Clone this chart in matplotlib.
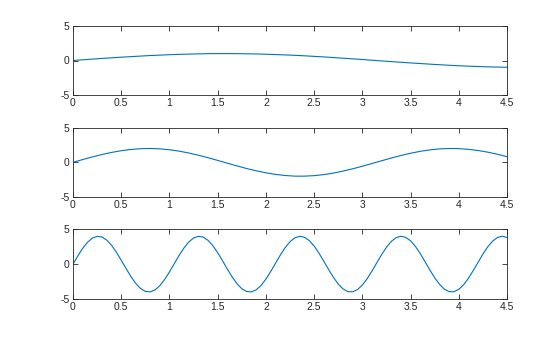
import numpy as np
import matplotlib
matplotlib.use("Agg")
import matplotlib.pyplot as plt

# sampled x grids
x_coarse = np.round(np.arange(46) * 0.1, 2)
x_fine = np.round(np.arange(91) * 0.05, 3)

# series values
y_top = [0.00, 0.10, 0.20, 0.30, 0.39, 0.48, 0.56, 0.64, 0.72, 0.78,
         0.84, 0.89, 0.93, 0.96, 0.99, 1.00, 1.00, 0.99, 0.97, 0.95,
         0.91, 0.86, 0.81, 0.75, 0.68, 0.60, 0.52, 0.43, 0.33, 0.24,
         0.14, 0.04, -0.06, -0.16, -0.26, -0.35, -0.44, -0.53, -0.61, -0.69,
         -0.76, -0.82, -0.87, -0.92, -0.95, -0.98]
y_mid = [0.00, 0.40, 0.78, 1.13, 1.43, 1.68, 1.86, 1.97, 2.00, 1.95,
         1.82, 1.62, 1.35, 1.03, 0.67, 0.28, -0.12, -0.51, -0.89, -1.22,
         -1.51, -1.74, -1.90, -1.99, -1.99, -1.92, -1.77, -1.55, -1.26, -0.93,
         -0.56, -0.17, 0.23, 0.62, 0.99, 1.31, 1.59, 1.80, 1.94, 2.00,
         1.98, 1.88, 1.71, 1.47, 1.17, 0.82]
y_bot = [0.00, 1.18, 2.26, 3.13, 3.73, 3.99, 3.90, 3.45, 2.70, 1.71, 0.56,
         -0.63, -1.77, -2.75, -3.49, -3.91, -3.98, -3.70, -3.09, -2.20, -1.12,
         0.07, 1.25, 2.31, 3.17, 3.75, 3.99, 3.88, 3.42, 2.65, 1.65,
         0.50, -0.70, -1.83, -2.80, -3.52, -3.92, -3.98, -3.68, -3.05, -2.15,
         -1.05, 0.13, 1.31, 2.37, 3.22, 3.77, 4.00, 3.86, 3.38, 2.60,
         1.59, 0.43, -0.76, -1.89, -2.85, -3.55, -3.94, -3.97, -3.65, -3.00,
         -2.09, -0.99, 0.20, 1.37, 2.42, 3.26, 3.80, 4.00, 3.84, 3.35,
         2.55, 1.53, 0.36, -0.83, -1.95, -2.89, -3.58, -3.95, -3.96, -3.62,
         -2.96, -2.03, -0.92, 0.27, 1.44, 2.48, 3.29, 3.82, 4.00, 3.83]

x_ticks = [0, 0.5, 1, 1.5, 2, 2.5, 3, 3.5, 4, 4.5]
x_ticklabels = ["0", "0.5", "1", "1.5", "2", "2.5", "3", "3.5", "4", "4.5"]
y_ticks = [-5, 0, 5]
y_ticklabels = ["-5", "0", "5"]

plt.rcParams['font.family'] = ['Liberation Sans', 'DejaVu Sans']
W, H = 560, 337
fig = plt.figure(figsize=(W / 100, H / 100), dpi=100)
fig.patch.set_facecolor('white')

# axes boxes in pixels: (top, bottom)
boxes = [(26, 95), (127.7, 197), (229.3, 299)]
left_px, right_px = 73, 507
series = [(x_coarse, y_top), (x_coarse, y_mid), (x_fine, y_bot)]
axcol = '#262626'
for (t, b), (xs, ys) in zip(boxes, series):
    ax = fig.add_axes([left_px / W, (H - b) / H, (right_px - left_px) / W, (b - t) / H])
    ax.plot(xs, ys, color='#0072BD', lw=0.8)
    ax.set_xlim(0, 4.5)
    ax.set_ylim(-5, 5)
    ax.set_xticks(x_ticks)
    ax.set_xticklabels(x_ticklabels)
    ax.set_yticks(y_ticks)
    ax.set_yticklabels(y_ticklabels)
    ax.tick_params(direction='in', length=3.5, width=0.6, top=True, right=True,
                   labelsize=7.5, colors=axcol, pad=2.5)
    for s in ax.spines.values():
        s.set_linewidth(0.6)
        s.set_color(axcol)

fig.savefig('out.png', dpi=100, facecolor='white')
